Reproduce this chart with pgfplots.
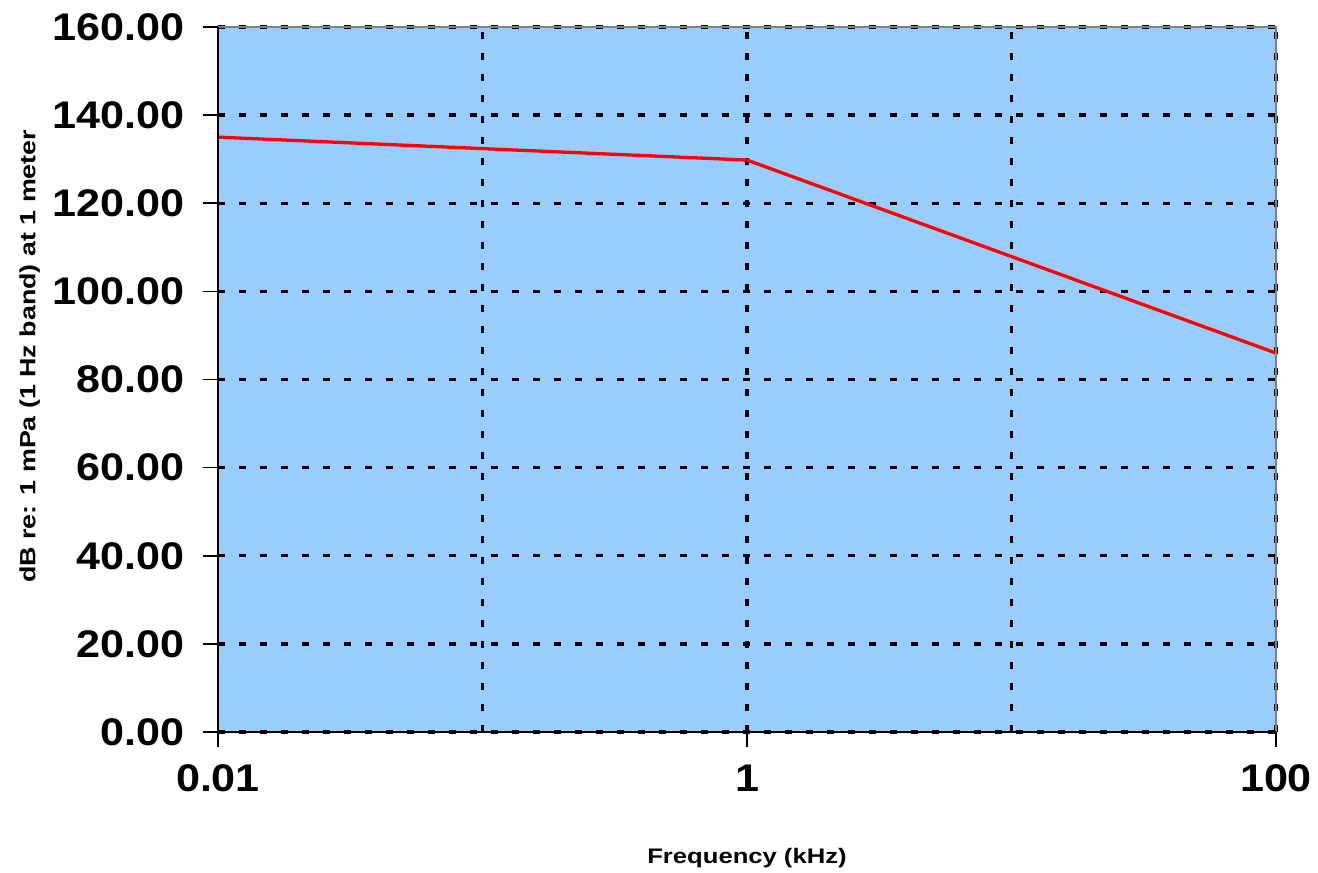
\documentclass[border=0pt]{standalone}
\usepackage{fontspec}
\setmainfont{Liberation Sans}
\newfontfamily\tickfont[FakeStretch=1.12]{Liberation Sans}
\newfontfamily\labfont[FakeStretch=1.22]{Liberation Sans}
\usepackage{pgfplots}
\pgfplotsset{compat=1.18}
\definecolor{bgblue}{HTML}{99CCFF}
\begin{document}
\begin{tikzpicture}
\begin{semilogxaxis}[
  scale only axis,
  width=1058pt, height=705pt,
  xmin=0.01, xmax=100, ymin=0, ymax=160,
  axis background/.style={fill=bgblue},
  xtick={0.01,1,100},
  xticklabels={0.01,1,100},
  minor xtick={0.1,1,10,100},
  ytick={0,20,...,160},
  y tick label style={/pgf/number format/fixed, /pgf/number format/fixed zerofill, /pgf/number format/precision=2, /pgf/number format/assume math mode=true, xshift=-15pt},
  ticklabel style={font=\tickfont\bfseries\fontsize{38.5}{40}\selectfont},
  x tick label style={yshift=-14pt},
  tick align=outside,
  major tick length=15pt,
  minor tick length=0pt,
  tick style={black, line width=1.5pt},
  axis x line*=bottom, axis y line*=left,
  axis line style={black, line width=2pt, -},
  xmajorgrids=false, xminorgrids=true, ymajorgrids=true,
  major grid style={black, line width=3.3pt, dash pattern=on 7pt off 14pt},
  minor grid style={black, line width=3.3pt, dash pattern=on 7pt off 14pt},
  xlabel={Frequency (kHz)},
  ylabel={dB re: 1 mPa (1 Hz band) at 1 meter},
  xlabel style={font=\labfont\bfseries\fontsize{21}{23}\selectfont, at={(axis description cs:0.5,-0.179)}, anchor=center},
  ylabel style={font=\labfont\bfseries\fontsize{22}{24}\selectfont, at={(axis description cs:-0.178,0.533)}, anchor=center},
  clip=false,
]
\addplot[red, line width=3.3pt] coordinates {(0.01,135) (1,129.8) (100,86)};
\draw[gray, line width=2pt] (axis cs:0.01,160) -- (axis cs:100,160) -- (axis cs:100,0);
\draw[black, line width=2.5pt] (axis cs:0.01,160) -- (axis cs:0.01,0) -- (axis cs:100,0);
\end{semilogxaxis}
\pgfresetboundingbox
\path ([xshift=-218pt,yshift=-140pt]current axis.south west) rectangle ([xshift=42pt,yshift=27pt]current axis.north east);
\end{tikzpicture}
\end{document}
